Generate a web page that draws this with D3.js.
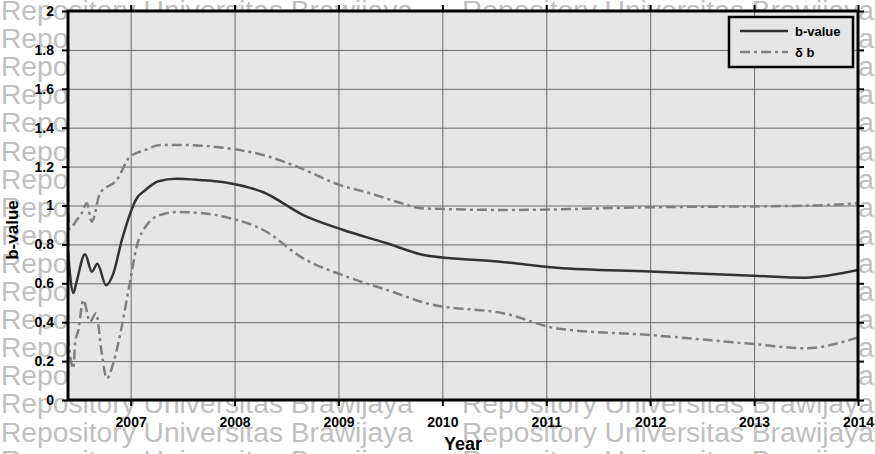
<!DOCTYPE html>
<html>
<head>
<meta charset="utf-8">
<script src="https://cdn.jsdelivr.net/npm/d3@7"></script>
<style>
  body { margin: 0; background: #fff; }
  svg { display: block; font-family: "Liberation Sans", Arial, sans-serif; }
</style>
</head>
<body>
<svg id="svg1" width="875" height="454"></svg>
<script>
// data (decimal years)
var bYears = [2006.397, 2006.449, 2006.476, 2006.561, 2006.626, 2006.680, 2006.763, 2006.833, 2006.914,
  2007.062, 2007.143, 2007.267, 2007.437, 2007.668, 2007.925, 2008.277, 2008.662, 2009.047,
  2009.465, 2009.833, 2010.555, 2011.101, 2011.999, 2012.993, 2013.491, 2014.0];
var bValues = [0.76, 0.55, 0.60, 0.75, 0.66, 0.70, 0.59, 0.65, 0.82,
  1.04, 1.08, 1.125, 1.138, 1.131, 1.117, 1.068, 0.951, 0.874,
  0.806, 0.744, 0.711, 0.680, 0.661, 0.639, 0.629, 0.668];

var upYears = [2006.397, 2006.410, 2006.433, 2006.481, 2006.529, 2006.577, 2006.626, 2006.705, 2006.866,
  2006.994, 2007.139, 2007.283, 2007.475, 2007.986, 2008.274, 2008.599, 2009.015, 2009.304,
  2009.593, 2009.814, 2010.651, 2011.999, 2013.491, 2014.0];
var upValues = [1.07, 0.88, 0.89, 0.925, 0.96, 1.011, 0.917, 1.063, 1.131,
  1.251, 1.285, 1.311, 1.311, 1.29, 1.26, 1.20, 1.105, 1.063,
  1.014, 0.985, 0.977, 0.991, 0.999, 1.011];

var loYears = [2006.397, 2006.420, 2006.449, 2006.465, 2006.497, 2006.545, 2006.609, 2006.667, 2006.722,
  2006.770, 2006.833, 2006.914, 2006.994, 2007.059, 2007.155, 2007.283, 2007.459, 2007.700,
  2007.925, 2008.277, 2008.662, 2009.080, 2009.465, 2009.850, 2010.620, 2011.101, 2011.999,
  2012.993, 2013.491, 2014.0];
var loValues = [0.33, 0.22, 0.163, 0.29, 0.36, 0.514, 0.403, 0.446, 0.24,
  0.111, 0.189, 0.377, 0.61, 0.79, 0.90, 0.951, 0.967, 0.96,
  0.939, 0.874, 0.728, 0.634, 0.566, 0.497, 0.442, 0.368, 0.334,
  0.288, 0.266, 0.322];

var yearTicks = [2007, 2008, 2009, 2010, 2011, 2012, 2013, 2014];
var valueTicks = [0, 0.2, 0.4, 0.6, 0.8, 1, 1.2, 1.4, 1.6, 1.8, 2];
var legendLabels = ["b-value", "\u03b4 b"];
var watermark = "Repository Universitas Brawijaya";

var marginLeft = 68;
var marginTop = 11;
var plotW = 790;
var plotH = 389;

var scaleX = d3.scaleLinear().domain([2006.397, 2014]).range([0, plotW]);
var scaleY = d3.scaleLinear().domain([0, 2]).range([plotH, 0]);

var svg = d3.select('#svg1');

// watermark rows behind everything
var rows = d3.range(17);
rows.forEach(function(k) {
    [1, 462].forEach(function(x0) {
        svg.append('text')
            .text(watermark)
            .attr('x', x0)
            .attr('y', 20 + 28.1 * k)
            .attr('textLength', 412)
            .attr('lengthAdjust', 'spacingAndGlyphs')
            .style('font-size', '27px')
            .style('fill', '#c0c0c0');
    });
});

var g = svg.append('g')
    .attr('transform', 'translate(' + marginLeft + ',' + marginTop + ')');

g.append('rect')
    .attr('width', plotW)
    .attr('height', plotH)
    .attr('fill', '#e6e6e6');

// grid
g.append('g')
    .attr('class', 'gridx')
    .attr('transform', 'translate(0,' + plotH + ')')
    .call(d3.axisBottom(scaleX).tickValues(yearTicks).tickSize(-plotH).tickFormat(''));
g.append('g')
    .attr('class', 'gridy')
    .call(d3.axisLeft(scaleY).tickValues(valueTicks).tickSize(-plotW).tickFormat(''));
g.selectAll('.gridx .tick line, .gridy .tick line')
    .attr('stroke', '#6a6a6a')
    .attr('stroke-width', 1);
g.selectAll('.gridx .domain, .gridy .domain').remove();

g.append('clipPath').attr('id', 'clip')
    .append('rect').attr('width', plotW).attr('height', plotH);

function makeLine(xs) {
    return d3.line()
        .x(function(d, i) { return scaleX(xs[i]); })
        .y(function(d) { return scaleY(d); })
        .curve(d3.curveMonotoneX);
}

var lines = g.append('g').attr('clip-path', 'url(#clip)');

lines.append('path')
    .datum(upValues)
    .attr('d', makeLine(upYears))
    .attr('fill', 'none')
    .attr('stroke', '#808080')
    .attr('stroke-width', 2.5)
    .attr('stroke-dasharray', '10,4,3,4');

lines.append('path')
    .datum(loValues)
    .attr('d', makeLine(loYears))
    .attr('fill', 'none')
    .attr('stroke', '#808080')
    .attr('stroke-width', 2.5)
    .attr('stroke-dasharray', '10,4,3,4');

lines.append('path')
    .datum(bValues)
    .attr('d', makeLine(bYears))
    .attr('fill', 'none')
    .attr('stroke', '#333')
    .attr('stroke-width', 2.5);

// axes
var axB = g.append('g')
    .attr('transform', 'translate(0,' + plotH + ')')
    .call(d3.axisBottom(scaleX).tickValues(yearTicks).tickFormat(d3.format('d'))
        .tickSizeInner(6).tickSizeOuter(0).tickPadding(11));
var axT = g.append('g')
    .call(d3.axisTop(scaleX).tickValues(yearTicks).tickFormat('')
        .tickSizeInner(6).tickSizeOuter(0));
var axL = g.append('g')
    .call(d3.axisLeft(scaleY).tickValues(valueTicks).tickFormat(d3.format('~g'))
        .tickSizeInner(6).tickSizeOuter(0).tickPadding(8));
var axR = g.append('g')
    .attr('transform', 'translate(' + plotW + ',0)')
    .call(d3.axisRight(scaleY).tickValues(valueTicks).tickFormat('')
        .tickSizeInner(6).tickSizeOuter(0));

[axB, axT, axL, axR].forEach(function(a) {
    a.select('.domain').remove();
    a.selectAll('.tick line').attr('stroke', '#000').attr('stroke-width', 2);
    a.selectAll('.tick text')
        .style('font-size', '14px')
        .style('font-weight', 'bold')
        .style('font-family', '"Liberation Sans", Arial, sans-serif')
        .attr('fill', '#000');
});

// frame
g.append('rect')
    .attr('width', plotW)
    .attr('height', plotH)
    .attr('fill', 'none')
    .attr('stroke', '#000')
    .attr('stroke-width', 3);

// axis titles
svg.append('text')
    .text('Year')
    .attr('x', marginLeft + plotW / 2)
    .attr('y', 450)
    .style('text-anchor', 'middle')
    .style('font-size', '18px')
    .style('font-weight', 'bold');

svg.append('text')
    .text('b-value')
    .attr('transform', 'translate(18,230)rotate(-90)')
    .style('text-anchor', 'middle')
    .style('font-size', '17px')
    .style('font-weight', 'bold');

// legend
var leg = svg.append('g').attr('transform', 'translate(729,17)');
leg.append('rect')
    .attr('width', 124)
    .attr('height', 50)
    .attr('fill', '#e6e6e6')
    .attr('stroke', '#000')
    .attr('stroke-width', 2.5);
legendLabels.forEach(function(lab, i) {
    var yy = 14 + i * 21;
    leg.append('line')
        .attr('x1', 11).attr('x2', 59)
        .attr('y1', yy).attr('y2', yy)
        .attr('stroke', i === 0 ? '#333' : '#808080')
        .attr('stroke-width', 2.5)
        .attr('stroke-dasharray', i === 0 ? null : '10,4,3,4');
    leg.append('text')
        .text(lab)
        .attr('x', 66)
        .attr('y', yy + 5)
        .style('font-size', '13px')
        .style('font-weight', 'bold');
});
</script>
</body>
</html>
